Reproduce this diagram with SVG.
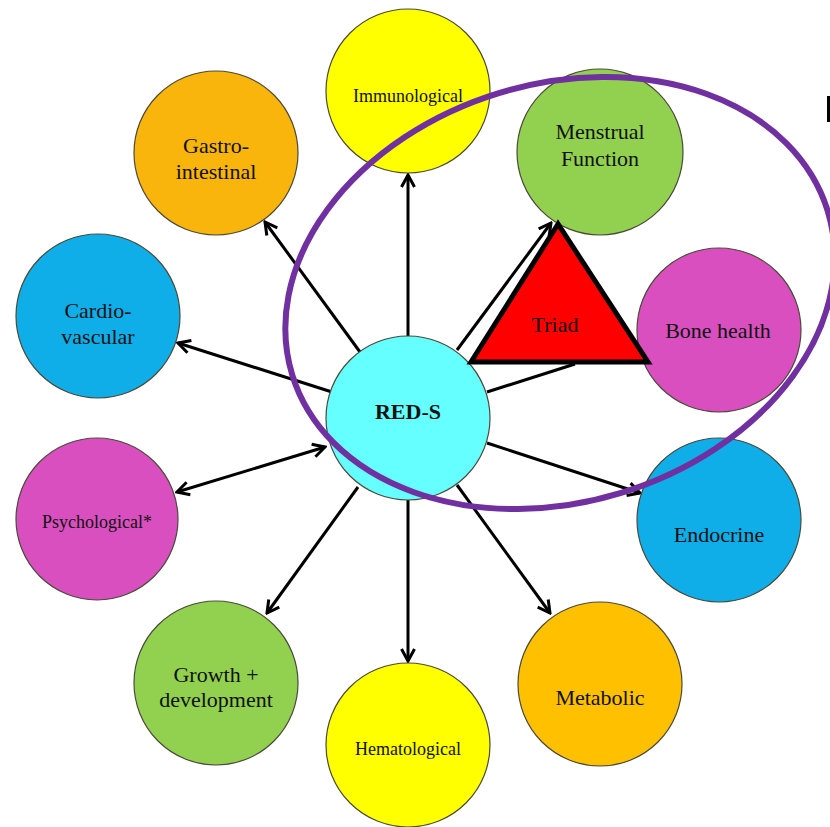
<svg xmlns="http://www.w3.org/2000/svg" width="830" height="827" viewBox="0 0 830 827">
<style>
  .node { stroke: #4a4a3a; stroke-width: 1.2; }
  .lbl { font-family: "Liberation Serif", "Times New Roman", serif; font-size: 22px; fill: #111; text-anchor: middle; }
  .sm { font-size: 18px; }
  .conn { stroke: #000; stroke-width: 3; fill: none; }
</style>
<defs>
  <marker id="arr" viewBox="0 0 16 16" refX="14" refY="8" markerWidth="16" markerHeight="16" markerUnits="userSpaceOnUse" orient="auto-start-reverse">
    <path d="M2,1.5 L14,8 L2,14.5" fill="none" stroke="#000" stroke-width="3" stroke-linejoin="miter"/>
  </marker>
</defs>
<rect width="830" height="827" fill="#fff"/>

<g id="connectors">
  <line class="conn" x1="408" y1="340" x2="408" y2="175" marker-end="url(#arr)"/>
  <line class="conn" x1="360" y1="352" x2="265" y2="222" marker-end="url(#arr)"/>
  <line class="conn" x1="332" y1="392" x2="178" y2="343" marker-end="url(#arr)"/>
  <line class="conn" x1="325" y1="447" x2="177" y2="492" marker-start="url(#arr)" marker-end="url(#arr)"/>
  <line class="conn" x1="358" y1="487" x2="267" y2="613" marker-end="url(#arr)"/>
  <line class="conn" x1="408" y1="495" x2="408" y2="661" marker-end="url(#arr)"/>
  <line class="conn" x1="457" y1="485" x2="550" y2="613" marker-end="url(#arr)"/>
  <line class="conn" x1="487" y1="443" x2="640" y2="493" marker-end="url(#arr)"/>
  <line class="conn" x1="487" y1="392" x2="575" y2="364"/>
  <line class="conn" x1="457" y1="350" x2="551" y2="223" marker-end="url(#arr)"/>
</g>

<g id="immunological">
  <circle class="node" cx="408" cy="91" r="82" fill="#FFFF00"/>
  <text class="lbl sm" x="408" y="102">Immunological</text>
</g>
<g id="menstrual">
  <circle class="node" cx="600" cy="152" r="83" fill="#92D050"/>
  <text class="lbl" x="600" y="139">Menstrual</text>
  <text class="lbl" x="600" y="166">Function</text>
</g>
<g id="gastro">
  <circle class="node" cx="216" cy="153" r="82" fill="#F9B50C"/>
  <text class="lbl" x="216" y="153">Gastro-</text>
  <text class="lbl" x="216" y="179">intestinal</text>
</g>
<g id="cardio">
  <circle class="node" cx="98" cy="316" r="82" fill="#10AEE8"/>
  <text class="lbl" x="98" y="318">Cardio-</text>
  <text class="lbl" x="98" y="344">vascular</text>
</g>
<g id="bone">
  <circle class="node" cx="719" cy="330" r="82" fill="#DA4FBF"/>
  <text class="lbl" x="718" y="338">Bone health</text>
</g>
<g id="reds">
  <circle class="node" cx="408" cy="418" r="82" fill="#66FFFF"/>
  <text class="lbl" x="408" y="419" font-weight="bold">RED-S</text>
</g>
<g id="psychological">
  <circle class="node" cx="97" cy="519" r="81" fill="#DA4FBF"/>
  <text class="lbl sm" x="97" y="528">Psychological*</text>
</g>
<g id="endocrine">
  <circle class="node" cx="719" cy="520" r="82" fill="#10AEE8"/>
  <text class="lbl" x="719" y="542">Endocrine</text>
</g>
<g id="growth">
  <circle class="node" cx="216" cy="683" r="82" fill="#92D050"/>
  <text class="lbl" x="216" y="682">Growth +</text>
  <text class="lbl" x="216" y="707">development</text>
</g>
<g id="metabolic">
  <circle class="node" cx="600" cy="684" r="82" fill="#FFC000"/>
  <text class="lbl" x="600" y="705">Metabolic</text>
</g>
<g id="hematological">
  <circle class="node" cx="408" cy="745" r="82" fill="#FFFF00"/>
  <text class="lbl sm" x="408" y="755">Hematological</text>
</g>

<g id="triad">
  <polygon points="558,224 471,362 648,362" fill="#FF0000" stroke="#000" stroke-width="5" stroke-linejoin="miter"/>
  <text class="lbl" x="555" y="332">Triad</text>
</g>

<g id="triad-outline">
  <ellipse cx="560" cy="293" rx="280" ry="209" transform="rotate(-17 560 293)" fill="none" stroke="#7030A0" stroke-width="6"/>
</g>

<rect x="827" y="96" width="3" height="26" fill="#000"/>
</svg>
